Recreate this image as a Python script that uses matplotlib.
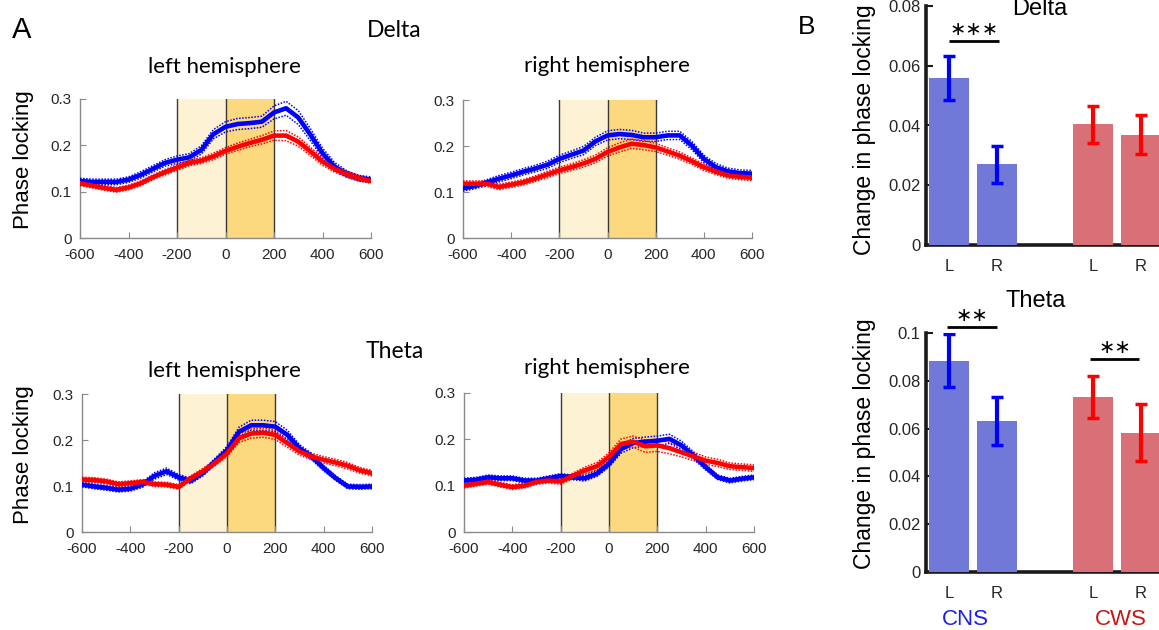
import numpy as np
import matplotlib
matplotlib.use("Agg")
import matplotlib.pyplot as plt

# ---------------- data ----------------
time_ms = [-600, -550, -500, -450, -400, -350, -300, -250, -200, -150, -100, -50,
           0, 50, 100, 150, 200, 250, 300, 350, 400, 450, 500, 550, 600]

# Delta, left hemisphere
delta_left_cns = [0.123, 0.121, 0.121, 0.121, 0.126, 0.136, 0.149, 0.162, 0.169, 0.174, 0.190, 0.224,
                  0.240, 0.246, 0.248, 0.251, 0.271, 0.280, 0.260, 0.223, 0.183, 0.154, 0.138, 0.129, 0.126]
delta_left_cns_sem = [0.006, 0.006, 0.006, 0.006, 0.006, 0.007, 0.007, 0.007, 0.008, 0.008, 0.009, 0.010,
                      0.011, 0.012, 0.012, 0.012, 0.014, 0.015, 0.015, 0.013, 0.011, 0.009, 0.007, 0.006, 0.006]
delta_left_cws = [0.118, 0.113, 0.108, 0.104, 0.109, 0.118, 0.131, 0.142, 0.152, 0.162, 0.167, 0.176,
                  0.188, 0.197, 0.205, 0.212, 0.221, 0.221, 0.208, 0.187, 0.165, 0.149, 0.138, 0.129, 0.123]
delta_left_cws_sem = [0.005, 0.005, 0.005, 0.005, 0.005, 0.005, 0.005, 0.006, 0.006, 0.006, 0.006, 0.007,
                      0.007, 0.008, 0.008, 0.009, 0.010, 0.011, 0.010, 0.009, 0.008, 0.007, 0.006, 0.006, 0.005]

# Delta, right hemisphere
delta_right_cns = [0.108, 0.113, 0.121, 0.129, 0.136, 0.144, 0.151, 0.159, 0.172, 0.181, 0.190, 0.210,
                   0.223, 0.226, 0.224, 0.219, 0.219, 0.223, 0.223, 0.201, 0.172, 0.154, 0.145, 0.141, 0.140]
delta_right_cns_sem = [0.006, 0.006, 0.006, 0.007, 0.007, 0.007, 0.007, 0.008, 0.008, 0.008, 0.009, 0.009,
                       0.010, 0.010, 0.010, 0.009, 0.009, 0.009, 0.009, 0.009, 0.008, 0.008, 0.007, 0.007, 0.007]
delta_right_cws = [0.118, 0.118, 0.118, 0.111, 0.116, 0.121, 0.129, 0.138, 0.147, 0.154, 0.162, 0.172,
                   0.187, 0.197, 0.205, 0.202, 0.197, 0.188, 0.179, 0.167, 0.154, 0.144, 0.136, 0.133, 0.131]
delta_right_cws_sem = [0.006, 0.006, 0.006, 0.006, 0.006, 0.006, 0.006, 0.007, 0.007, 0.007, 0.008, 0.008,
                       0.009, 0.010, 0.010, 0.010, 0.009, 0.008, 0.008, 0.007, 0.007, 0.006, 0.006, 0.006, 0.006]

# Theta, left hemisphere
theta_left_cns = [0.103, 0.099, 0.096, 0.092, 0.094, 0.103, 0.122, 0.132, 0.119, 0.111, 0.128, 0.153,
                  0.178, 0.218, 0.232, 0.232, 0.229, 0.211, 0.182, 0.164, 0.139, 0.117, 0.099, 0.098, 0.099]
theta_left_cns_sem = [0.005, 0.005, 0.005, 0.005, 0.005, 0.006, 0.007, 0.007, 0.006, 0.006, 0.006, 0.007,
                      0.008, 0.010, 0.011, 0.011, 0.011, 0.010, 0.008, 0.007, 0.006, 0.005, 0.005, 0.005, 0.005]
theta_left_cws = [0.114, 0.113, 0.110, 0.104, 0.106, 0.109, 0.104, 0.103, 0.098, 0.117, 0.132, 0.150,
                  0.171, 0.204, 0.214, 0.216, 0.211, 0.193, 0.175, 0.164, 0.157, 0.151, 0.144, 0.134, 0.128]
theta_left_cws_sem = [0.005, 0.005, 0.005, 0.005, 0.005, 0.005, 0.005, 0.005, 0.005, 0.005, 0.006, 0.006,
                      0.007, 0.009, 0.010, 0.010, 0.010, 0.009, 0.008, 0.007, 0.007, 0.007, 0.007, 0.006, 0.006]

# Theta, right hemisphere
theta_right_cns = [0.111, 0.113, 0.118, 0.116, 0.116, 0.111, 0.111, 0.116, 0.121, 0.118, 0.116, 0.126,
                   0.147, 0.179, 0.192, 0.195, 0.197, 0.201, 0.187, 0.165, 0.140, 0.118, 0.111, 0.115, 0.118]
theta_right_cns_sem = [0.005, 0.005, 0.005, 0.005, 0.005, 0.005, 0.005, 0.005, 0.005, 0.005, 0.006, 0.006,
                       0.007, 0.009, 0.010, 0.010, 0.010, 0.010, 0.009, 0.008, 0.006, 0.005, 0.005, 0.005, 0.005]
theta_right_cws = [0.100, 0.104, 0.108, 0.102, 0.097, 0.100, 0.108, 0.111, 0.109, 0.121, 0.133, 0.142,
                   0.162, 0.190, 0.195, 0.185, 0.187, 0.181, 0.172, 0.163, 0.154, 0.149, 0.142, 0.140, 0.138]
theta_right_cws_sem = [0.005, 0.005, 0.005, 0.005, 0.005, 0.005, 0.005, 0.005, 0.006, 0.006, 0.007, 0.008,
                       0.009, 0.011, 0.012, 0.013, 0.013, 0.012, 0.010, 0.009, 0.008, 0.008, 0.007, 0.007, 0.007]

x_ticks = [-600, -400, -200, 0, 200, 400, 600]
y_ticks_a = [0, 0.1, 0.2, 0.3]

# Panel B bars
bar_labels = ["L", "R", "L", "R"]
bar_pos = [1, 2, 4, 5]
delta_bar_cns = [0.056, 0.027]
delta_bar_cns_err = [0.0073, 0.0061]
delta_bar_cws = [0.0404, 0.0369]
delta_bar_cws_err = [0.0062, 0.0065]
theta_bar_cns = [0.0884, 0.0632]
theta_bar_cns_err = [0.011, 0.0101]
theta_bar_cws = [0.0732, 0.0583]
theta_bar_cws_err = [0.0088, 0.012]

# ---------------- figure ----------------
W, H = 1159, 630
fig = plt.figure(figsize=(W / 100, H / 100), dpi=100)
fig.patch.set_facecolor("white")

ARIAL = "Liberation Sans"
CAL = "Lato"
BLUE = "#0000ff"
RED = "#ff0000"
LIGHT = "#fdf2d4"
DARK = "#fcd97f"


def add_ax(l, t, r, b):
    return fig.add_axes([l / W, 1 - b / H, (r - l) / W, (b - t) / H])


def fy(y):
    return 1 - y / H


def ts_panel(ax, cns, cns_sem, cws, cws_sem):
    t = np.array(time_ms)
    ax.axvspan(-200, 0, color=LIGHT, zorder=0, lw=0)
    ax.axvspan(0, 200, color=DARK, zorder=0, lw=0)
    for xv in (-200, 0, 200):
        ax.axvline(xv, color="#3a3a3a", lw=1.0, zorder=1)
    for m, s, c in ((cns, cns_sem, BLUE), (cws, cws_sem, RED)):
        m = np.array(m)
        s = np.array(s)
        ax.plot(t, m + s, color=c, lw=1.1, ls=(0, (1, 1)), zorder=3)
        ax.plot(t, m - s, color=c, lw=1.1, ls=(0, (1, 1)), zorder=3)
        ax.plot(t, m, color=c, lw=3.3, zorder=4, solid_capstyle="round")
    ax.set_xlim(-600, 600)
    ax.set_ylim(0, 0.3)
    ax.set_xticks(x_ticks)
    ax.set_xticklabels([str(v) for v in x_ticks])
    ax.set_yticks(y_ticks_a)
    ax.set_yticklabels(["0", "0.1", "0.2", "0.3"])
    for sp in ("top", "right"):
        ax.spines[sp].set_visible(False)
    for sp in ("left", "bottom"):
        ax.spines[sp].set_color("#8a8a8a")
        ax.spines[sp].set_linewidth(1.0)
    ax.tick_params(direction="in", length=4, width=0.8, color="#8a8a8a",
                   labelsize=11, labelcolor="#262626")
    ax.tick_params(axis="x", pad=7)
    ax.tick_params(axis="y", pad=6)
    for lab in ax.get_xticklabels() + ax.get_yticklabels():
        lab.set_fontfamily(ARIAL)


ax1 = add_ax(80, 99, 371, 238)
ts_panel(ax1, delta_left_cns, delta_left_cns_sem, delta_left_cws, delta_left_cws_sem)
ax2 = add_ax(463, 100, 752, 238)
ts_panel(ax2, delta_right_cns, delta_right_cns_sem, delta_right_cws, delta_right_cws_sem)
ax3 = add_ax(82, 394, 372, 532)
ts_panel(ax3, theta_left_cns, theta_left_cns_sem, theta_left_cws, theta_left_cws_sem)
ax4 = add_ax(464, 393, 754, 532)
ts_panel(ax4, theta_right_cns, theta_right_cns_sem, theta_right_cws, theta_right_cws_sem)

# Panel A texts
fig.text(12 / W, fy(38), "A", fontsize=21, family=ARIAL, va="baseline", ha="left")
fig.text(394 / W, fy(37), "Delta", fontsize=16.5, family=CAL, va="baseline", ha="center")
fig.text(395 / W, fy(358), "Theta", fontsize=16.5, family=CAL, va="baseline", ha="center")
fig.text(224 / W, fy(73), "left hemisphere", fontsize=16, family=CAL, va="baseline", ha="center")
fig.text(607 / W, fy(72), "right hemisphere", fontsize=16, family=CAL, va="baseline", ha="center")
fig.text(224 / W, fy(377), "left hemisphere", fontsize=16, family=CAL, va="baseline", ha="center")
fig.text(607 / W, fy(374), "right hemisphere", fontsize=16, family=CAL, va="baseline", ha="center")
fig.text(24 / W, fy(160), "Phase locking", fontsize=16, family=ARIAL, rotation=90,
         va="center", ha="center")
fig.text(24 / W, fy(455), "Phase locking", fontsize=16, family=ARIAL, rotation=90,
         va="center", ha="center")

# ---------------- Panel B ----------------
CNS_BAR = "#7078d8"
CWS_BAR = "#d97078"
bar_px = 48.0
x_left = 0.52
x_right = x_left + (1159 - 926) / bar_px


def bar_panel(ax, cns, cns_err, cws, cws_err, ymax, yticks, ylabels):
    vals = cns + cws
    errs = cns_err + cws_err
    cols = [CNS_BAR, CNS_BAR, CWS_BAR, CWS_BAR]
    ecols = [BLUE, BLUE, RED, RED]
    ax.bar(bar_pos, vals, width=0.82, color=cols, edgecolor="none", zorder=2)
    for p, v, e, ec in zip(bar_pos, vals, errs, ecols):
        ax.errorbar(p, v, yerr=e, fmt="none", ecolor=ec, elinewidth=3.0,
                    capsize=4.5, capthick=2.5, zorder=3)
    ax.set_xlim(x_left, x_right)
    ax.set_ylim(0, ymax)
    ax.set_xticks(bar_pos)
    ax.set_xticklabels(bar_labels)
    ax.set_yticks(yticks)
    ax.set_yticklabels(ylabels)
    for sp in ("top", "right"):
        ax.spines[sp].set_visible(False)
    ax.spines["left"].set_linewidth(2.6)
    ax.spines["bottom"].set_linewidth(2.6)
    ax.spines["left"].set_color("#1a1a1a")
    ax.spines["bottom"].set_color("#1a1a1a")
    ax.spines["bottom"].set_zorder(1)
    ax.tick_params(axis="y", direction="in", length=5, width=1.5, color="#1a1a1a",
                   labelsize=12, labelcolor="#262626", pad=4)
    ax.tick_params(axis="x", length=0, labelsize=12, labelcolor="#262626", pad=10)
    for lab in ax.get_xticklabels() + ax.get_yticklabels():
        lab.set_fontfamily(ARIAL)
    ax.patch.set_alpha(0)


axb1 = add_ax(926, 6, 1159, 245)
bar_panel(axb1, delta_bar_cns, delta_bar_cns_err, delta_bar_cws, delta_bar_cws_err,
          0.08, [0, 0.02, 0.04, 0.06, 0.08], ["0", "0.02", "0.04", "0.06", "0.08"])
axb2 = add_ax(926, 333, 1159, 572)
bar_panel(axb2, theta_bar_cns, theta_bar_cns_err, theta_bar_cws, theta_bar_cws_err,
          0.1, [0, 0.02, 0.04, 0.06, 0.08, 0.1], ["0", "0.02", "0.04", "0.06", "0.08", "0.1"])


def sig(ax, x0, x1, y, stars):
    ax.plot([x0, x1], [y, y], color="black", lw=2.0, clip_on=False, zorder=5,
            solid_capstyle="butt")
    ax.annotate(stars, xy=((x0 + x1) / 2, y), xytext=(0, 1.5), textcoords="offset points",
                ha="center", va="bottom", fontsize=14, family="DejaVu Sans",
                annotation_clip=False)


sig(axb1, 1.0, 2.04, 0.0683, "∗∗∗")
sig(axb2, 0.96, 2.0, 0.1026, "∗∗")
sig(axb2, 3.94, 4.96, 0.0891, "∗∗")

fig.text(798 / W, fy(34), "B", fontsize=19, family=ARIAL, va="baseline", ha="left")
fig.text(1040 / W, fy(15), "Delta", fontsize=17, family=ARIAL, va="baseline", ha="center")
fig.text(1036 / W, fy(307), "Theta", fontsize=17, family=ARIAL, va="baseline", ha="center")
fig.text(865 / W, fy(130), "Change in phase locking", fontsize=16.5, family=ARIAL,
         rotation=90, va="center", ha="center")
fig.text(865 / W, fy(444), "Change in phase locking", fontsize=16.5, family=ARIAL,
         rotation=90, va="center", ha="center")
fig.text(965 / W, fy(625), "CNS", fontsize=16, family=ARIAL, color="#1f1fe8",
         va="baseline", ha="center")
fig.text(1121 / W, fy(625), "CWS", fontsize=16, family=ARIAL, color="#c81414",
         va="baseline", ha="center")

fig.savefig("out.png", dpi=100, facecolor="white")
